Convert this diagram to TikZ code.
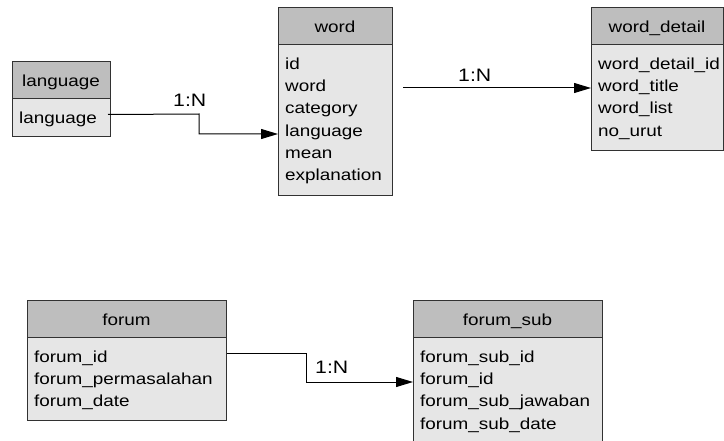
\documentclass[tikz,border=0pt]{standalone}
\usepackage{fontspec}
\setmainfont[FakeStretch=1.18]{Liberation Sans}
\usetikzlibrary{arrows.meta}
\definecolor{hdr}{RGB}{190,190,190}
\definecolor{bdy}{RGB}{230,230,230}
\definecolor{brd}{RGB}{50,50,50}
\newcommand\erTable[7]{%
  \node[hbox,minimum width=#4pt,minimum height=37pt] (#1H) at (#2,#3) {};
  \node[bbox,minimum width=#4pt,minimum height=#5pt] (#1B) at (#2,#3+37) {};
  \node[htext] (#1T) at (#2+#4/2,#3+26) {#6};
  \foreach \f [count=\i] in {#7} {
    \node[ftext] (#1\i) at (#2+7,#3+62.5+22.2*\i-22.2) {\f};
  }
}
\begin{document}
\begin{tikzpicture}[x=1pt,y=-1pt,
  hbox/.style={rectangle,draw=brd,fill=hdr,line width=1pt,inner sep=0pt,anchor=north west},
  bbox/.style={rectangle,draw=brd,fill=bdy,line width=1pt,inner sep=0pt,anchor=north west},
  htext/.style={anchor=base,inner sep=0pt,font=\fontsize{16}{19}\selectfont},
  ftext/.style={anchor=base west,inner sep=0pt,font=\fontsize{16}{19}\selectfont},
  card/.style={anchor=base west,inner sep=0pt,font=\fontsize{18}{21}\selectfont},
  conn/.style={line width=1pt,-{Triangle[length=17pt,width=10pt]}}]
\clip (0,0) rectangle (724,441);
\fill[white] (0,0) rectangle (724,441);

\erTable{lang}{12}{61}{98}{38}{language}{language}
\erTable{word}{278}{7}{114}{151}{word}{id,word,category,language,mean,explanation}
\erTable{wd}{591}{7}{132}{106}{word\_detail}{word\_detail\_id,word\_title,word\_list,no\_urut}
\erTable{forum}{27}{300}{199}{83}{forum}{forum\_id,forum\_permasalahan,forum\_date}
\erTable{fs}{413}{300}{189}{150}{forum\_sub}{forum\_sub\_id,forum\_id,forum\_sub\_jawaban,forum\_sub\_date}

\draw[conn] ([xshift=-3pt,yshift=3pt]langB.east) -- (199,114) -- (199,134) -- (wordB.west |- 0,134);
\node[card] (lbl1) at (173,107) {1:N};

\draw[conn] ([xshift=10pt]wordB.east |- 0,88) -- (wdB.west |- 0,88);
\node[card] (lbl2) at (458,82) {1:N};

\draw[conn] (forumB.east |- 0,353) -- (306,353) -- (306,382) -- (fsB.west |- 0,382);
\node[card] (lbl3) at (315,373) {1:N};
\end{tikzpicture}
\end{document}
